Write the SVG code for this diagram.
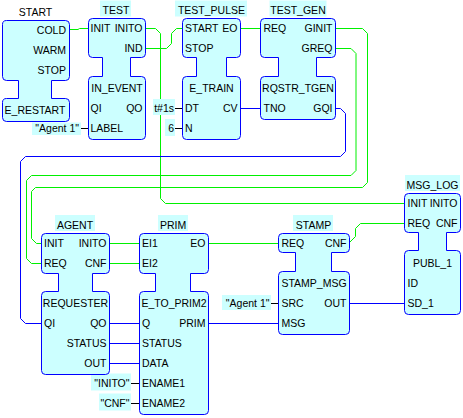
<svg xmlns="http://www.w3.org/2000/svg" width="463" height="418" viewBox="0 0 463 418">
<style>
.fb{fill:#ccffff;stroke:#0000ff;stroke-width:1}
.bg{fill:#ccffff}
.ev{fill:none;stroke:#00f000;stroke-width:1}
.dt{fill:none;stroke:#0000ff;stroke-width:1}
.cl{fill:none;stroke:#000;stroke-width:1}
text{font-family:"Liberation Sans",Arial,sans-serif;font-size:10.5px;fill:#000}
.e{text-anchor:end}
.m{text-anchor:middle}
</style>
<rect width="463" height="418" fill="#fff"/>
<g id="connectors">
<path class="ev" d="M69.5,29.5 H78 L79.5,28.5 H88.5"/>
<path class="ev" d="M145.5,28.5 H155.5 L160.5,33.5 V198.5 L165.5,203.5 H404.5"/>
<path class="ev" d="M145.5,48.5 H166.5 L171.5,43.5 V33.5 L176.5,28.5 H182.5"/>
<path class="ev" d="M240.5,28.5 H260.5"/>
<path class="ev" d="M335.5,28.5 H362.5 L367.5,33.5 V182.5 L362.5,187.5 H35.5 L31.5,191.5 V238.5 L36.5,243.5 H41.5"/>
<path class="ev" d="M335.5,48.5 H351 L356,53.5 V170.5 L351,175.5 H31.5 L26.5,180.5 V258.5 L31.5,263.5 H41.5"/>
<path class="ev" d="M109.5,243.5 H139.5"/>
<path class="ev" d="M109.5,263.5 H139.5"/>
<path class="ev" d="M208.5,243.5 H278.5"/>
<path class="ev" d="M349.5,242.5 L355.5,236.5 V228.5 L360.5,223.5 H404.5"/>
<path class="dt" d="M240.5,108.5 H260.5"/>
<path class="dt" d="M335.5,108.5 H340.5 L345.5,113.5 V151.5 L340.5,156.5 H25.5 L20.5,161.5 V318.5 L25.5,323.5 H41.5"/>
<path class="dt" d="M109.5,323.5 H139.5"/>
<path class="dt" d="M109.5,343.5 H139.5"/>
<path class="dt" d="M109.5,363.5 H139.5"/>
<path class="dt" d="M208.5,323.5 H278.5"/>
<path class="dt" d="M349.5,303.5 H404.5"/>
<path class="cl" d="M81,128.5 H88.5 M175,108.5 H182.5 M175,128.5 H182.5 M131,383.5 H139.5 M131,403.5 H139.5 M271,303.5 H278.5"/>
</g>
<g id="consts">
<rect class="bg" x="32" y="122.5" width="49" height="12.5"/>
<text class="e" x="79" y="132">"Agent 1"</text>
<rect class="bg" x="153" y="99" width="22" height="16"/>
<text class="e" x="174" y="112">t#1s</text>
<rect class="bg" x="165" y="119" width="10" height="17"/>
<text class="e" x="174" y="132">6</text>
<rect class="bg" x="91" y="373.5" width="40" height="17"/>
<text class="e" x="129.5" y="387">"INITO"</text>
<rect class="bg" x="99" y="393.5" width="32" height="17"/>
<text class="e" x="129.5" y="407">"CNF"</text>
<rect class="bg" x="222" y="295" width="49" height="15"/>
<text class="e" x="269.5" y="307">"Agent 1"</text>
</g>
<g id="START">
<path class="fb" d="M6.5,20.5 H65.5 A4,4 0 0 1 69.5,24.5 V76.5 A4,4 0 0 1 65.5,80.5 H51.5 V98.5 H65.5 A4,4 0 0 1 69.5,102.5 V117.5 A4,4 0 0 1 65.5,121.5 H6.5 A4,4 0 0 1 2.5,117.5 V102.5 A4,4 0 0 1 6.5,98.5 H18.5 V80.5 H6.5 A4,4 0 0 1 2.5,76.5 V24.5 A4,4 0 0 1 6.5,20.5 Z"/>
<text class="m" x="35.5" y="16">START</text>
<text class="e" x="66" y="34">COLD</text>
<text class="e" x="66" y="54">WARM</text>
<text class="e" x="66" y="74">STOP</text>
<text class="m" x="35" y="114">E_RESTART</text>
</g>
<g id="TEST">
<rect class="bg" x="100" y="0.5" width="31" height="16"/>
<text class="m" x="116" y="14">TEST</text>
<path class="fb" d="M92.5,18.5 H141.5 A4,4 0 0 1 145.5,22.5 V53.5 A4,4 0 0 1 141.5,57.5 H130.5 V76.5 H141.5 A4,4 0 0 1 145.5,80.5 V135.5 A4,4 0 0 1 141.5,139.5 H92.5 A4,4 0 0 1 88.5,135.5 V80.5 A4,4 0 0 1 92.5,76.5 H102.5 V57.5 H92.5 A4,4 0 0 1 88.5,53.5 V22.5 A4,4 0 0 1 92.5,18.5 Z"/>
<text x="90.5" y="32">INIT</text>
<text class="e" x="142.5" y="32">INITO</text>
<text class="e" x="142.5" y="52">IND</text>
<text class="m" x="117" y="92">IN_EVENT</text>
<text x="90.5" y="112">QI</text>
<text class="e" x="142.5" y="112">QO</text>
<text x="90.5" y="132">LABEL</text>
</g>
<g id="TEST_PULSE">
<rect class="bg" x="175" y="0.5" width="72" height="16"/>
<text class="m" x="211.5" y="14">TEST_PULSE</text>
<path class="fb" d="M186.5,18.5 H236.5 A4,4 0 0 1 240.5,22.5 V53.5 A4,4 0 0 1 236.5,57.5 H226.5 V76.5 H236.5 A4,4 0 0 1 240.5,80.5 V135.5 A4,4 0 0 1 236.5,139.5 H186.5 A4,4 0 0 1 182.5,135.5 V80.5 A4,4 0 0 1 186.5,76.5 H196.5 V57.5 H186.5 A4,4 0 0 1 182.5,53.5 V22.5 A4,4 0 0 1 186.5,18.5 Z"/>
<text x="185" y="32">START</text>
<text class="e" x="237.5" y="32">EO</text>
<text x="185" y="52">STOP</text>
<text class="m" x="211.5" y="92">E_TRAIN</text>
<text x="185" y="112">DT</text>
<text class="e" x="237.5" y="112">CV</text>
<text x="185" y="132">N</text>
</g>
<g id="TEST_GEN">
<rect class="bg" x="269.5" y="0.5" width="57" height="16"/>
<text class="m" x="298" y="14">TEST_GEN</text>
<path class="fb" d="M264.5,18.5 H331.5 A4,4 0 0 1 335.5,22.5 V53.5 A4,4 0 0 1 331.5,57.5 H316.5 V76.5 H331.5 A4,4 0 0 1 335.5,80.5 V115.5 A4,4 0 0 1 331.5,119.5 H264.5 A4,4 0 0 1 260.5,115.5 V80.5 A4,4 0 0 1 264.5,76.5 H278.5 V57.5 H264.5 A4,4 0 0 1 260.5,53.5 V22.5 A4,4 0 0 1 264.5,18.5 Z"/>
<text x="263.5" y="32">REQ</text>
<text class="e" x="332.5" y="32">GINIT</text>
<text class="e" x="332.5" y="52">GREQ</text>
<text class="m" x="298" y="92">RQSTR_TGEN</text>
<text x="263.5" y="112">TNO</text>
<text class="e" x="332.5" y="112">GQI</text>
</g>
<g id="AGENT">
<rect class="bg" x="55" y="215" width="40" height="16"/>
<text class="m" x="75" y="229">AGENT</text>
<path class="fb" d="M45.5,233.5 H105.5 A4,4 0 0 1 109.5,237.5 V269.5 A4,4 0 0 1 105.5,273.5 H92.5 V291.5 H105.5 A4,4 0 0 1 109.5,295.5 V370.5 A4,4 0 0 1 105.5,374.5 H45.5 A4,4 0 0 1 41.5,370.5 V295.5 A4,4 0 0 1 45.5,291.5 H58.5 V273.5 H45.5 A4,4 0 0 1 41.5,269.5 V237.5 A4,4 0 0 1 45.5,233.5 Z"/>
<text x="44" y="247">INIT</text>
<text class="e" x="106.5" y="247">INITO</text>
<text x="44" y="267">REQ</text>
<text class="e" x="106.5" y="267">CNF</text>
<text class="m" x="75.5" y="307">REQUESTER</text>
<text x="44" y="327">QI</text>
<text class="e" x="106.5" y="327">QO</text>
<text class="e" x="106.5" y="347">STATUS</text>
<text class="e" x="106.5" y="367">OUT</text>
</g>
<g id="PRIM">
<rect class="bg" x="158" y="215" width="30" height="16"/>
<text class="m" x="173" y="229">PRIM</text>
<path class="fb" d="M143.5,233.5 H204.5 A4,4 0 0 1 208.5,237.5 V269.5 A4,4 0 0 1 204.5,273.5 H190.5 V291.5 H204.5 A4,4 0 0 1 208.5,295.5 V410.5 A4,4 0 0 1 204.5,414.5 H143.5 A4,4 0 0 1 139.5,410.5 V295.5 A4,4 0 0 1 143.5,291.5 H155.5 V273.5 H143.5 A4,4 0 0 1 139.5,269.5 V237.5 A4,4 0 0 1 143.5,233.5 Z"/>
<text x="142" y="247">EI1</text>
<text class="e" x="205.5" y="247">EO</text>
<text x="142" y="267">EI2</text>
<text class="m" x="174" y="307">E_TO_PRIM2</text>
<text x="142" y="327">Q</text>
<text class="e" x="205.5" y="327">PRIM</text>
<text x="142" y="347">STATUS</text>
<text x="142" y="367">DATA</text>
<text x="142" y="387">ENAME1</text>
<text x="142" y="407">ENAME2</text>
</g>
<g id="STAMP">
<rect class="bg" x="293" y="215" width="40" height="16"/>
<text class="m" x="313.5" y="229">STAMP</text>
<path class="fb" d="M282.5,233.5 H345.5 A4,4 0 0 1 349.5,237.5 V248.5 A4,4 0 0 1 345.5,252.5 H331.5 V271.5 H345.5 A4,4 0 0 1 349.5,275.5 V330.5 A4,4 0 0 1 345.5,334.5 H282.5 A4,4 0 0 1 278.5,330.5 V275.5 A4,4 0 0 1 282.5,271.5 H295.5 V252.5 H282.5 A4,4 0 0 1 278.5,248.5 V237.5 A4,4 0 0 1 282.5,233.5 Z"/>
<text x="281.5" y="247">REQ</text>
<text class="e" x="346.5" y="247">CNF</text>
<text class="m" x="314" y="287">STAMP_MSG</text>
<text x="281.5" y="307">SRC</text>
<text class="e" x="346.5" y="307">OUT</text>
<text x="281.5" y="327">MSG</text>
</g>
<g id="MSG_LOG">
<rect class="bg" x="405" y="175" width="55" height="16"/>
<text class="m" x="432.5" y="189">MSG_LOG</text>
<path class="fb" d="M408.5,193.5 H456.5 A4,4 0 0 1 460.5,197.5 V228.5 A4,4 0 0 1 456.5,232.5 H446.5 V250.5 H456.5 A4,4 0 0 1 460.5,254.5 V310.5 A4,4 0 0 1 456.5,314.5 H408.5 A4,4 0 0 1 404.5,310.5 V254.5 A4,4 0 0 1 408.5,250.5 H418.5 V232.5 H408.5 A4,4 0 0 1 404.5,228.5 V197.5 A4,4 0 0 1 408.5,193.5 Z"/>
<text x="407.5" y="207">INIT</text>
<text class="e" x="457.5" y="207">INITO</text>
<text x="407.5" y="227">REQ</text>
<text class="e" x="457.5" y="227">CNF</text>
<text class="m" x="432.5" y="267">PUBL_1</text>
<text x="407.5" y="287">ID</text>
<text x="407.5" y="307">SD_1</text>
</g>
</svg>
